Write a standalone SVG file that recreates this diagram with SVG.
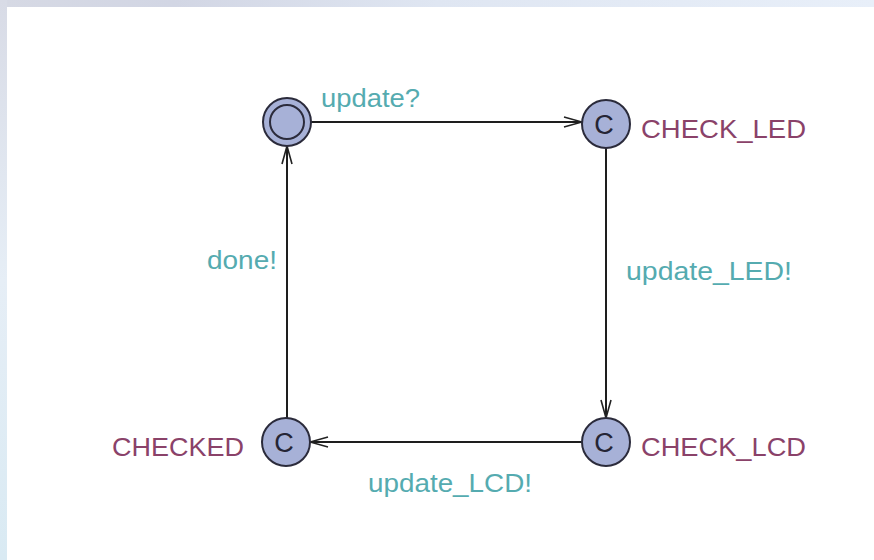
<svg xmlns="http://www.w3.org/2000/svg" width="874" height="560" viewBox="0 0 874 560">
  <defs>
    <linearGradient id="topbar" x1="0" y1="0" x2="1" y2="0">
      <stop offset="0" stop-color="#d6d9e4"/>
      <stop offset="0.2" stop-color="#d2d6e4"/>
      <stop offset="0.5" stop-color="#dfe6f2"/>
      <stop offset="1" stop-color="#e8eff9"/>
    </linearGradient>
    <linearGradient id="leftbar" x1="0" y1="0" x2="0" y2="1">
      <stop offset="0" stop-color="#d8dbe6"/>
      <stop offset="0.5" stop-color="#e6eef6"/>
      <stop offset="1" stop-color="#d9eaf3"/>
    </linearGradient>
    <marker id="arr" viewBox="0 0 20 12" refX="20" refY="6" markerWidth="20" markerHeight="12" markerUnits="userSpaceOnUse" orient="auto">
      <path d="M2,1 L20,6 L2,11" fill="none" stroke="#222" stroke-width="1.6"/>
    </marker>
  </defs>
  <style>
    .node { fill: #a7b1d7; stroke: #2b2b3b; stroke-width: 2; }
    .edge { fill: none; stroke: #1e1e1e; stroke-width: 2; marker-end: url(#arr); }
    .name { font-family: "Liberation Sans", Arial, sans-serif; font-size: 26px; fill: #8a4269; }
    .lbl { font-family: "Liberation Sans", Arial, sans-serif; font-size: 26px; fill: #55abb0; }
    .c { font-family: "Liberation Sans", Arial, sans-serif; font-size: 27px; fill: #252535; text-anchor: middle; }
  </style>
  <rect x="0" y="0" width="874" height="560" fill="#ffffff"/>
  <rect x="0" y="0" width="874" height="7" fill="url(#topbar)"/>
  <rect x="0" y="0" width="7" height="560" fill="url(#leftbar)"/>

  <g id="connectors">
    <line class="edge" x1="310" y1="122" x2="582" y2="122"/>
    <line class="edge" x1="606" y1="148" x2="606" y2="418"/>
    <line class="edge" x1="582" y1="442" x2="310" y2="442"/>
    <line class="edge" x1="287" y1="418" x2="287" y2="146"/>
    <text class="lbl" x="321" y="107" textLength="99" lengthAdjust="spacingAndGlyphs">update?</text>
    <text class="lbl" x="626" y="280" textLength="166" lengthAdjust="spacingAndGlyphs">update_LED!</text>
    <text class="lbl" x="368" y="492" textLength="164" lengthAdjust="spacingAndGlyphs">update_LCD!</text>
    <text class="lbl" x="207" y="269" textLength="70" lengthAdjust="spacingAndGlyphs">done!</text>
  </g>

  <g id="init">
    <circle class="node" cx="287" cy="122" r="24"/>
    <circle class="node" cx="287" cy="122" r="17"/>
  </g>

  <g id="CHECK_LED">
    <circle class="node" cx="606" cy="124" r="24"/>
    <text class="c" x="604" y="134">C</text>
    <text class="name" x="641" y="138" textLength="165" lengthAdjust="spacingAndGlyphs">CHECK_LED</text>
  </g>

  <g id="CHECK_LCD">
    <circle class="node" cx="606" cy="442" r="24"/>
    <text class="c" x="604" y="452">C</text>
    <text class="name" x="641" y="456" textLength="165" lengthAdjust="spacingAndGlyphs">CHECK_LCD</text>
  </g>

  <g id="CHECKED">
    <circle class="node" cx="286" cy="442" r="24"/>
    <text class="c" x="284" y="452">C</text>
    <text class="name" x="112" y="456" textLength="132" lengthAdjust="spacingAndGlyphs">CHECKED</text>
  </g>
</svg>
